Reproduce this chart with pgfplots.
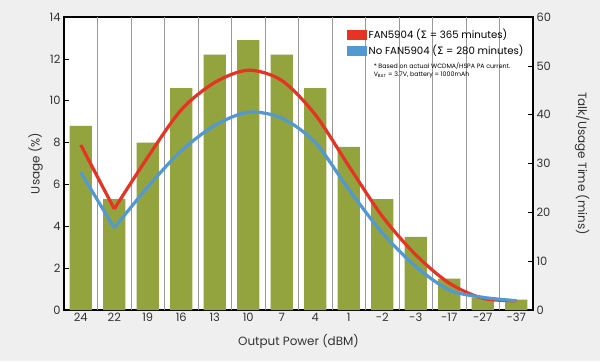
\documentclass[border=0pt]{standalone}
\usepackage{pgfplots}
\pgfplotsset{compat=1.18}
\usepackage{fontspec}
\setmainfont{Poppins}
\newfontfamily\grk{DejaVu Sans}
\definecolor{bg}{HTML}{EFEFEF}
\definecolor{bargreen}{HTML}{93A43F}
\definecolor{lred}{HTML}{E63323}
\definecolor{lblue}{HTML}{5298D2}
\definecolor{txt}{HTML}{333333}
\begin{document}
\begin{tikzpicture}[x=1bp,y=1bp]
\fill[bg] (0,0) rectangle (600,361);
\useasboundingbox (0,0) rectangle (600,361);
\begin{axis}[
  at={(64bp,51bp)}, anchor=south west, scale only axis,
  width=469bp, height=293bp,
  xmin=-0.5, xmax=13.5, ymin=0, ymax=14,
  axis background/.style={fill=white},
  axis line style={line width=1.3bp},
  xtick={0,...,13},
  xticklabels={24,22,19,16,13,10,7,4,1,-2,-3,-17,-27,-37},
  x tick style={draw=none},
  extra x ticks={0.5,1.5,...,12.5},
  extra x tick labels={},
  extra x tick style={grid=major, major grid style={draw=black!40, line width=0.8bp}, tick style={draw=none}},
  ytick={0,2,...,14}, ytick pos=left, tick align=inside,
  major tick length=5bp,
  y tick style={black, line width=0.6bp},
  /pgf/number format/assume math mode=true,
  tick label style={font=\fontsize{11.5}{13}\selectfont, text=txt},
  xlabel={Output Power (dBM)},
  ylabel={Usage (\%)},
  label style={font=\fontsize{12}{14}\selectfont, text=txt},
  xlabel style={yshift=-5bp},
  ylabel style={yshift=0bp},
]
\addplot[ybar, bar width=0.66, fill=bargreen, draw=none] coordinates {
(0,8.8) (1,5.3) (2,8.0) (3,10.6) (4,12.2) (5,12.9) (6,12.2)
(7,10.6) (8,7.8) (9,5.3) (10,3.5) (11,1.5) (12,0.6) (13,0.5)};
\end{axis}
\begin{axis}[
  at={(64bp,51bp)}, anchor=south west, scale only axis,
  width=469bp, height=293bp,
  xmin=-0.5, xmax=13.5, ymin=0, ymax=60,
  axis x line=none, axis y line*=right,
  axis line style={line width=1.3bp},
  ytick={0,10,...,60}, tick align=inside,
  major tick length=5bp,
  y tick style={black, line width=0.6bp},
  /pgf/number format/assume math mode=true,
  tick label style={font=\fontsize{11.5}{13}\selectfont, text=txt},
  ylabel={Talk/Usage Time (mins)},
  label style={font=\fontsize{12}{14}\selectfont, text=txt},
  ylabel style={rotate=180, yshift=17bp},
  legend style={at={(0.602,0.965)}, anchor=north west, draw=none, fill=none,
    font=\fontsize{10.2}{12}\selectfont, text=black, row sep=1bp,
    inner sep=0pt},
  legend image code/.code={\fill[#1] (0bp,-3.5bp) rectangle (17bp,3.5bp);},
  legend cell align=left,
]
\addplot[lred, line width=3.2bp, forget plot] coordinates {(0,33.8) (1,20.7)};
\addplot[lred, line width=3.2bp, smooth] coordinates {
(1,20.7) (2,31.3) (3,41.0) (4,46.6) (5,49.1) (6,47.0) (7,40.0)
(8,29.5) (9,19.2) (10,11.3) (11,5.5) (12,2.4) (13,1.9)};
\addlegendentry{FAN5904 ({\grk Σ} = 365 minutes)}
\addplot[lblue, line width=3.2bp, forget plot] coordinates {(0,28.2) (1,16.8)};
\addplot[lblue, line width=3.2bp, smooth] coordinates {
(1,16.8) (2,25.2) (3,32.6) (4,37.8) (5,40.5) (6,39.3) (7,34.3)
(8,24.7) (9,15.8) (10,8.9) (11,4.1) (12,2.6) (13,1.9)};
\addlegendentry{No FAN5904 ({\grk Σ} = 280 minutes)}
\node[anchor=north west, font=\fontsize{6.3}{7.8}\selectfont, align=left, inner sep=0pt]
  at (rel axis cs:0.66,0.845) {* Based on actual WCDMA/HSPA PA current.\\
  V\textsubscript{BAT} = 3.7V, battery = 1000mAh};
\end{axis}
\end{tikzpicture}
\end{document}
